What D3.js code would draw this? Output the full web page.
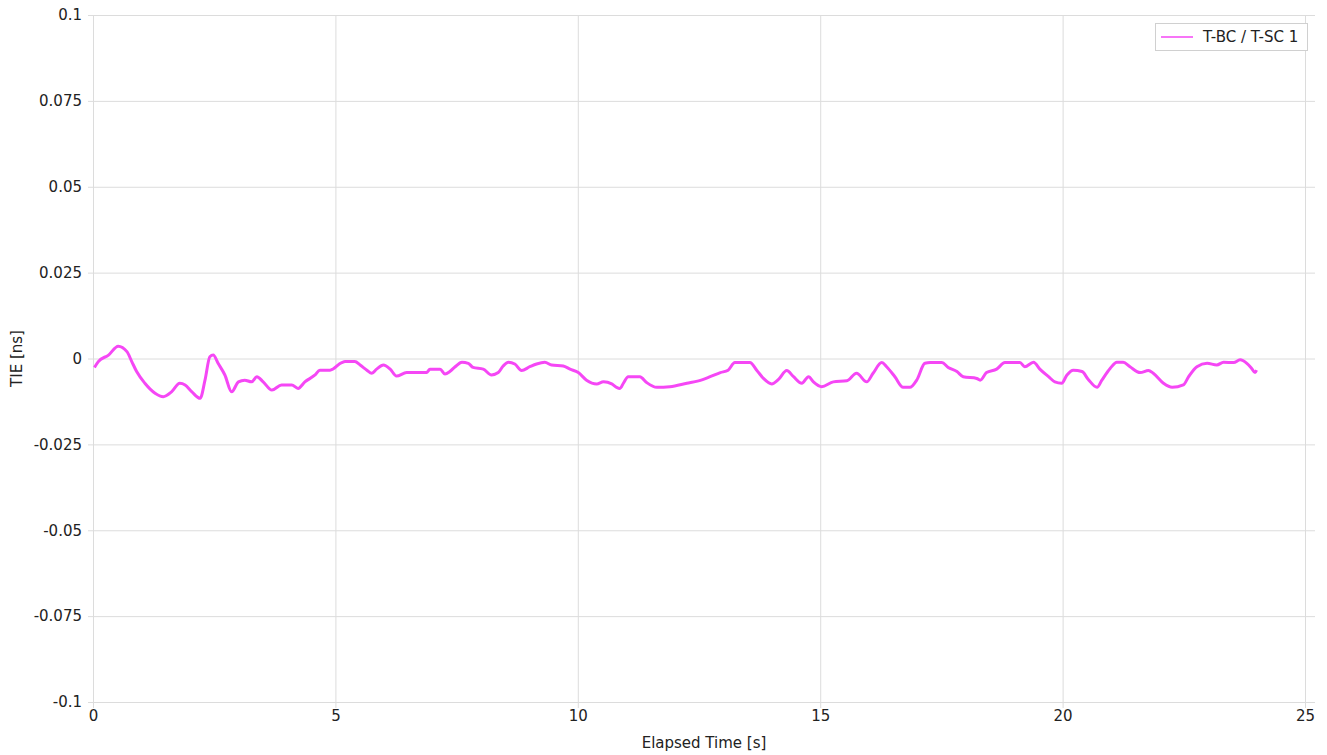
<!DOCTYPE html>
<html><head><meta charset="utf-8">
<script src="https://cdn.jsdelivr.net/npm/d3@7"></script>
<style>body{margin:0;background:#fff}text{font-family:"DejaVu Sans",sans-serif}</style>
</head><body><svg id="c" width="1327" height="755"></svg>
<script>
const seriesName = "T-BC / T-SC 1";
const times = [0.03,0.11,0.32,0.52,0.70,0.80,0.90,1.07,1.28,1.45,1.62,1.79,1.90,2.04,2.21,2.31,2.41,2.48,2.58,2.72,2.86,3.00,3.13,3.27,3.38,3.51,3.69,3.89,4.10,4.23,4.37,4.58,4.68,
4.89,5.13,5.20,5.40,5.51,5.65,5.75,5.85,5.99,6.13,6.26,6.47,6.88,6.95,7.16,7.26,7.36,7.47,7.61,7.74,7.84,8.05,8.22,8.36,8.46,8.57,8.70,8.84,9.01,9.15,9.32,9.46,9.70,9.84,10.01,10.18,10.39,10.53,10.70,10.80,
10.87,10.94,11.04,11.28,11.42,11.63,11.90,12.25,12.49,12.73,12.94,13.10,13.24,13.55,13.69,13.83,14.00,14.14,14.31,14.45,14.62,14.76,14.86,15.03,15.27,15.55,15.75,15.96,16.09,16.27,16.37,16.54,16.71,16.85,16.99,17.16,
17.27,17.51,17.64,17.82,17.95,18.23,18.30,18.43,18.64,18.81,19.12,19.22,19.40,19.53,19.71,19.84,19.98,20.09,20.22,20.40,20.53,20.71,20.81,20.98,21.12,21.25,21.39,21.60,21.77,21.87,22.08,22.26,22.49,22.60,22.77,22.98,23.18,23.32,23.53,23.66,23.80,23.90,23.97,24.00];
const tie = [-0.0026,-0.0009,0.0010,0.0036,0.0020,-0.0009,-0.0038,-0.0072,-0.0101,-0.0111,-0.0097,-0.0072,-0.0077,-0.0097,-0.0116,-0.0063,0.0005,0.0010,-0.0014,-0.0048,-0.0097,-0.0068,-0.0063,-0.0068,-0.0053,-0.0068,-0.0092,-0.0077,-0.0077,-0.0087,-0.0068,-0.0048,-0.0034,
-0.0034,-0.0012,-0.0009,-0.0009,-0.0019,-0.0034,-0.0043,-0.0031,-0.0019,-0.0031,-0.0051,-0.0041,-0.0041,-0.0031,-0.0031,-0.0045,-0.0038,-0.0024,-0.0011,-0.0014,-0.0026,-0.0031,-0.0048,-0.0041,-0.0022,-0.0011,-0.0016,-0.0035,-0.0024,-0.0016,-0.0011,-0.0019,-0.0022,-0.0031,-0.0041,-0.0063,-0.0074,-0.0068,-0.0074,-0.0084,
-0.0087,-0.0072,-0.0053,-0.0053,-0.0070,-0.0084,-0.0082,-0.0072,-0.0065,-0.0053,-0.0041,-0.0034,-0.0012,-0.0012,-0.0034,-0.0058,-0.0074,-0.0061,-0.0035,-0.0053,-0.0072,-0.0053,-0.0068,-0.0082,-0.0068,-0.0065,-0.0043,-0.0068,-0.0043,-0.0012,-0.0024,-0.0053,-0.0084,-0.0084,-0.0063,-0.0014,
-0.0012,-0.0012,-0.0026,-0.0038,-0.0053,-0.0058,-0.0063,-0.0041,-0.0031,-0.0012,-0.0012,-0.0024,-0.0011,-0.0031,-0.0053,-0.0068,-0.0072,-0.0048,-0.0034,-0.0038,-0.0061,-0.0084,-0.0063,-0.0029,-0.0011,-0.0011,-0.0024,-0.0041,-0.0035,-0.0043,-0.0072,-0.0084,-0.0077,-0.0053,-0.0024,-0.0014,-0.0019,-0.0011,-0.0012,-0.0004,-0.0014,-0.0029,-0.0041,-0.0034];
const xTicks = [0,5,10,15,20,25];
const yTicks = [-0.1,-0.075,-0.05,-0.025,0,0.025,0.05,0.075,0.1];
const yTickLabels = ["-0.1","-0.075","-0.05","-0.025","0","0.025","0.05","0.075","0.1"];

const svg = d3.select("#c");
const L = 93, R = 1315, T = 15, B = 702;
const x = d3.scaleLinear().domain([0, 25.206]).range([L, R]);
const y = d3.scaleLinear().domain([-0.1, 0.1]).range([B, T]);
const grid = "#dcdcdc";
const fs = 15;

const gx = svg.append("g").attr("transform", `translate(0,${B})`)
  .call(d3.axisBottom(x).tickValues(xTicks).tickFormat(d3.format("d")).tickSize(-(B - T)).tickSizeOuter(0).tickPadding(8));
gx.select(".domain").remove();
gx.selectAll(".tick line").attr("stroke", grid).attr("y2", 6).attr("y1", -(B - T));
gx.selectAll("text").attr("font-size", fs).attr("fill", "#222");

const gy = svg.append("g").attr("transform", `translate(${L},0)`)
  .call(d3.axisLeft(y).tickValues(yTicks).tickFormat((d, i) => yTickLabels[i]).tickSize(-(R - L)).tickSizeOuter(0).tickPadding(11));
gy.select(".domain").remove();
gy.selectAll(".tick line").attr("stroke", grid).attr("x1", -5);
gy.selectAll("text").attr("font-size", fs).attr("fill", "#222");

const data = times.map((t, i) => [t, tie[i]]);
svg.append("path").datum(data)
  .attr("fill", "none").attr("stroke", "#f547f5").attr("stroke-width", 3).attr("stroke-linejoin", "round")
  .attr("d", d3.line().x(d => x(d[0])).y(d => y(d[1])).curve(d3.curveMonotoneX));

svg.append("text").attr("x", (L + 1305) / 2 + 5).attr("y", 748).attr("text-anchor", "middle")
  .attr("font-size", fs).attr("fill", "#222").text("Elapsed Time [s]");
svg.append("text").attr("transform", `translate(22,${(T + B) / 2}) rotate(-90)`).attr("text-anchor", "middle")
  .attr("font-size", fs).attr("fill", "#222").text("TIE [ns]");

const lg = svg.append("g");
lg.append("rect").attr("x", 1155.5).attr("y", 23.5).attr("width", 152).attr("height", 27)
  .attr("fill", "#fff").attr("stroke", "#d0d0d0");
lg.append("line").attr("x1", 1161).attr("x2", 1193).attr("y1", 37).attr("y2", 37)
  .attr("stroke", "#f547f5").attr("stroke-width", 1.5);
lg.append("text").attr("x", 1203).attr("y", 42).attr("font-size", fs).attr("fill", "#222").text(seriesName);
</script></body></html>
